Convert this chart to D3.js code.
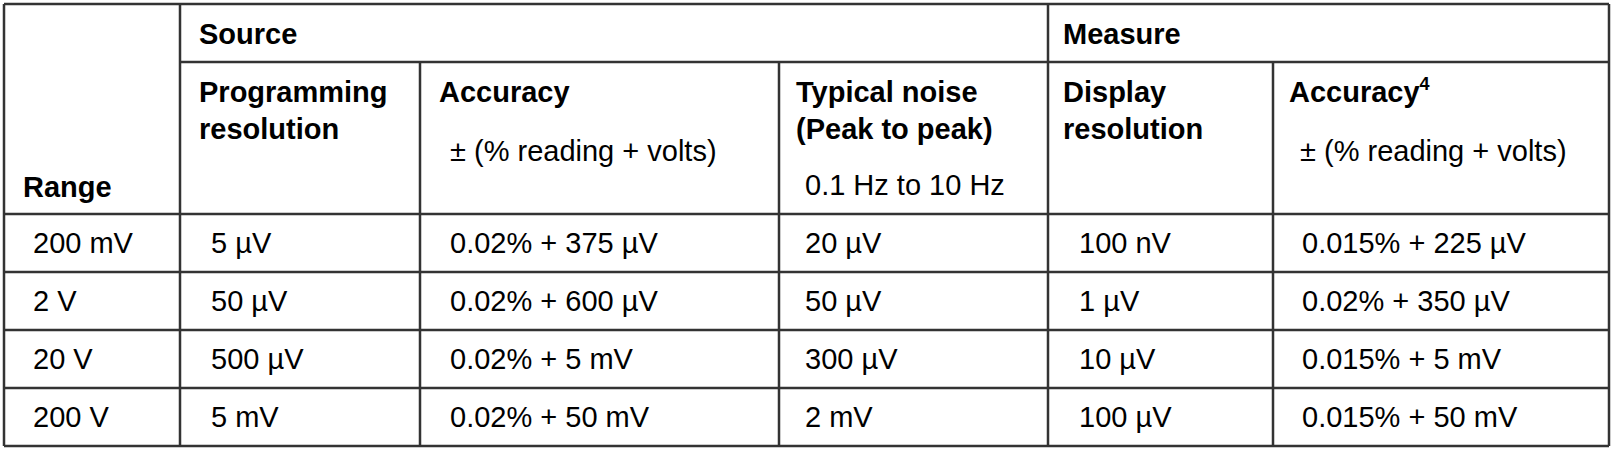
<!DOCTYPE html>
<html lang="en">
<head>
<meta charset="UTF-8">
<title>Range table</title>
<style>
  body { margin: 0; background: #fff; }
  text { font-family: "Liberation Sans", Arial, sans-serif; font-size: 29px; fill: #000; }
  .b { font-weight: bold; }
  line { stroke: #333; stroke-width: 2.5px; }
</style>
</head>
<body>
<script src="https://cdnjs.cloudflare.com/ajax/libs/d3/7.8.5/d3.min.js"></script>
<script>
var ranges = ["200 mV", "2 V", "20 V", "200 V"];
var progRes = ["5 µV", "50 µV", "500 µV", "5 mV"];
var srcAcc = ["0.02% + 375 µV", "0.02% + 600 µV", "0.02% + 5 mV", "0.02% + 50 mV"];
var noise = ["20 µV", "50 µV", "300 µV", "2 mV"];
var dispRes = ["100 nV", "1 µV", "10 µV", "100 µV"];
var measAcc = ["0.015% + 225 µV", "0.02% + 350 µV", "0.015% + 5 mV", "0.015% + 50 mV"];

var W = 1613, H = 452;
var colX = [4, 180, 420, 779, 1048, 1273, 1609];   // column edges
var textX = [33, 211, 450, 805, 1079, 1302];       // data text starts
var y = d3.scaleLinear().domain([0, 4]).range([214, 446]);

var svg = d3.select("body").append("svg").attr("width", W).attr("height", H);

// grid
colX.forEach(function (x, i) {
  svg.append("line").attr("x1", x).attr("x2", x)
    .attr("y1", (i === 2 || i === 3 || i === 5) ? 62 : 4).attr("y2", 446);
});
svg.append("line").attr("x1", 4).attr("x2", 1609).attr("y1", 4).attr("y2", 4);
svg.append("line").attr("x1", 180).attr("x2", 1609).attr("y1", 62).attr("y2", 62);
d3.range(5).forEach(function (r) {
  svg.append("line").attr("x1", 4).attr("x2", 1609).attr("y1", y(r)).attr("y2", y(r));
});

// headers
var heads = [
  [23, 197, "Range", true], [199, 44, "Source", true], [1063, 44, "Measure", true],
  [199, 102, "Programming", true], [199, 139, "resolution", true],
  [439, 102, "Accuracy", true], [450, 161, "± (% reading + volts)", false],
  [796, 102, "Typical noise", true], [796, 139, "(Peak to peak)", true],
  [805, 195, "0.1 Hz to 10 Hz", false],
  [1063, 102, "Display", true], [1063, 139, "resolution", true],
  [1300, 161, "± (% reading + volts)", false]
];
heads.forEach(function (h) {
  svg.append("text").attr("x", h[0]).attr("y", h[1]).attr("class", h[3] ? "b" : null).text(h[2]);
});
var acc = svg.append("text").attr("x", 1289).attr("y", 102).attr("class", "b");
acc.append("tspan").text("Accuracy");
acc.append("tspan").attr("dy", -12).style("font-size", "18px").text("4");

// body
var cols = [ranges, progRes, srcAcc, noise, dispRes, measAcc];
cols.forEach(function (col, c) {
  svg.selectAll(null).data(col).enter().append("text")
    .attr("x", textX[c])
    .attr("y", function (d, i) { return (y(i) + y(i + 1)) / 2 + 10; })
    .text(function (d) { return d; });
});
</script>
</body>
</html>
